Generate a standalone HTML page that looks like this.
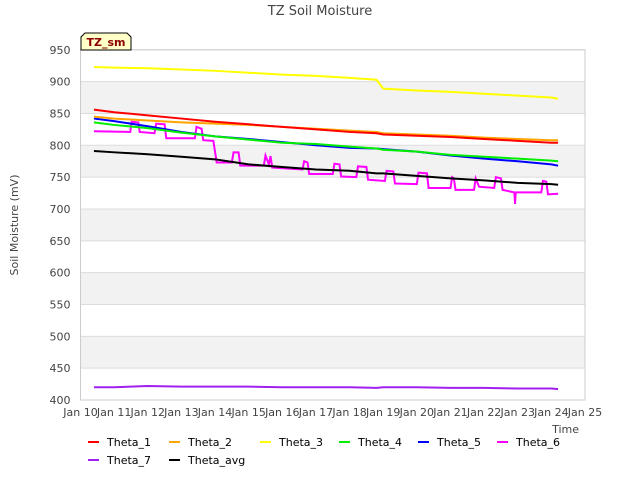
<!DOCTYPE html>
<html><head><meta charset="utf-8"><style>
body{margin:0;background:#fff;font-family:"Liberation Sans","DejaVu Sans",sans-serif;}
svg text{font-family:"DejaVu Sans","Liberation Sans",sans-serif;}
</style></head><body>
<svg id="chart" width="640" height="480" xmlns="http://www.w3.org/2000/svg">
<rect width="640" height="480" fill="#fff"/>
<text x="320" y="15" text-anchor="middle" font-size="13" fill="#444">TZ Soil Moisture</text>
<g id="bands"></g><g id="grid"></g><g id="axes"></g><g id="series"></g><g id="legend"></g>
<text transform="translate(18,225) rotate(-90)" text-anchor="middle" font-size="11" fill="#444">Soil Moisture (mV)</text>
<text x="579" y="433" text-anchor="end" font-size="11" fill="#444">Time</text>
<g>
<path d="M81,50 L81,37 L85,33 L127,33 L131,37 L131,50 Z" fill="#ffffc8" stroke="#000" stroke-width="1"/>
<text x="106" y="46" text-anchor="middle" font-size="11" font-weight="bold" fill="#8b0000">TZ_sm</text>
</g>
</svg>
<script>
const yTicks=[400,450,500,550,600,650,700,750,800,850,900,950];
const xTickDays=[10,11,12,13,14,15,16,17,18,19,20,21,22,23,24,25];
const xTickLabels=xTickDays.map(d=>"Jan "+d);
const times=[10.4,11,12,13,14,15,16,17,18,18.8,19,20,21,22,23,24,24.2];
const theta1=[856,852,847,842,837,833,829,825,821,819,817,815,813,810,807,804,804];
const theta2=[845,842,839,836,834,832,829,826,823,821,819,817,815,812,810,808,808];
const theta3=[923,922,921,919,917,914,911,909,906,903,889,886,884,881,878,875,873];
const theta4=[836,832,827,820,814,809,804,802,798,795,793,790,785,782,779,776,775];
const theta5=[842,838,830,821,814,810,805,800,796,795,794,790,784,779,775,770,768];
const theta7=[420,420,422,421,421,421,420,420,420,419,420,420,419,419,418,418,417];
const thetaAvg=[791,789,786,782,778,770,766,762,760,756,756,752,748,745,741,739,738];
const pinkTimes=[10.4,11.48,11.52,11.72,11.76,12.2,12.25,12.5,12.55,13.4,13.45,13.6,13.65,13.95,14.05,14.5,14.55,14.7,14.75,15.45,15.5,15.6,15.65,15.7,16.6,16.65,16.75,16.8,17.5,17.55,17.7,17.75,18.2,18.25,18.5,18.55,19.05,19.1,19.3,19.35,20.0,20.05,20.3,20.35,21.0,21.05,21.1,21.15,21.7,21.75,21.85,22.3,22.35,22.5,22.55,22.9,22.92,22.94,23.7,23.75,23.85,23.9,24.2];
const theta6=[822,821,837,836,821,819,834,833,811,811,829,826,808,807,773,773,789,789,768,768,784,770,783,765,762,775,773,755,755,771,770,751,750,767,766,746,744,760,759,740,739,757,756,733,733,750,748,730,730,748,735,733,750,748,730,726,708,726,726,744,743,723,724];
const L=80.5,R=585,T=49.8,B=400;
const x=t=>L+(t-10)*(R-L)/15;
const y=v=>B-(v-400)*(B-T)/550;
const NS="http://www.w3.org/2000/svg";
function mk(tag,attrs,parent){const e=document.createElementNS(NS,tag);for(const k in attrs)e.setAttribute(k,attrs[k]);parent.appendChild(e);return e;}
const bands=document.getElementById('bands'),grid=document.getElementById('grid'),axes=document.getElementById('axes'),ser=document.getElementById('series'),leg=document.getElementById('legend');
for(let i=0;i<yTicks.length-1;i++){
  if(i%2===1){const r=mk('rect',{x:L,y:y(yTicks[i+1]),width:R-L,height:y(yTicks[i])-y(yTicks[i+1]),fill:'#f2f2f2'},bands);
  
  }
}
yTicks.forEach(v=>{
  const l=mk('line',{x1:L,x2:R,y1:y(v),y2:y(v),stroke:'#dcdcdc','stroke-width':1},grid);
  
  
  const t=mk('text',{x:L-10,y:y(v)+4,'text-anchor':'end','font-size':11,fill:'#444'},axes);
  t.textContent=v;
  
  
});
const fr=mk('rect',{x:L,y:T,width:R-L,height:B-T,fill:'none',stroke:'#ccc'},axes);


xTickDays.forEach((d,i)=>{
  const t=mk('text',{x:x(d),y:416,'text-anchor':'middle','font-size':11,fill:'#444'},axes);
  t.textContent=xTickLabels[i];
  
  
});
const series=[
 ['Theta_1','#ff0000',times,theta1],['Theta_2','#ffa500',times,theta2],['Theta_3','#ffff00',times,theta3],
 ['Theta_4','#00ee00',times,theta4],['Theta_5','#0000ff',times,theta5],['Theta_6','#ff00ff',pinkTimes,theta6],
 ['Theta_7','#a020f0',times,theta7],['Theta_avg','#000000',times,thetaAvg]];
const drawOrder=[2,6,5,7,4,3,1,0];
drawOrder.forEach(i=>{const s=series[i];
  const p=mk('polyline',{points:s[2].map((t,j)=>x(t)+','+y(s[3][j])).join(' '),fill:'none',stroke:s[1],'stroke-width':2},ser);
  
  
});
const legPos=[[88,442],[169,442],[260,442],[339,442],[418,442],[497,442],[88,460],[169,460]];
series.forEach((s,i)=>{
  const g=mk('g',{},leg);
  
  
  const [lx,ly]=legPos[i];
  mk('line',{x1:lx,x2:lx+11,y1:ly,y2:ly,stroke:s[1],'stroke-width':2},g);
  const t=mk('text',{x:lx+19,y:ly+4,'font-size':11,fill:'#000'},g);
  t.textContent=s[0];
});
</script>
</body></html>
